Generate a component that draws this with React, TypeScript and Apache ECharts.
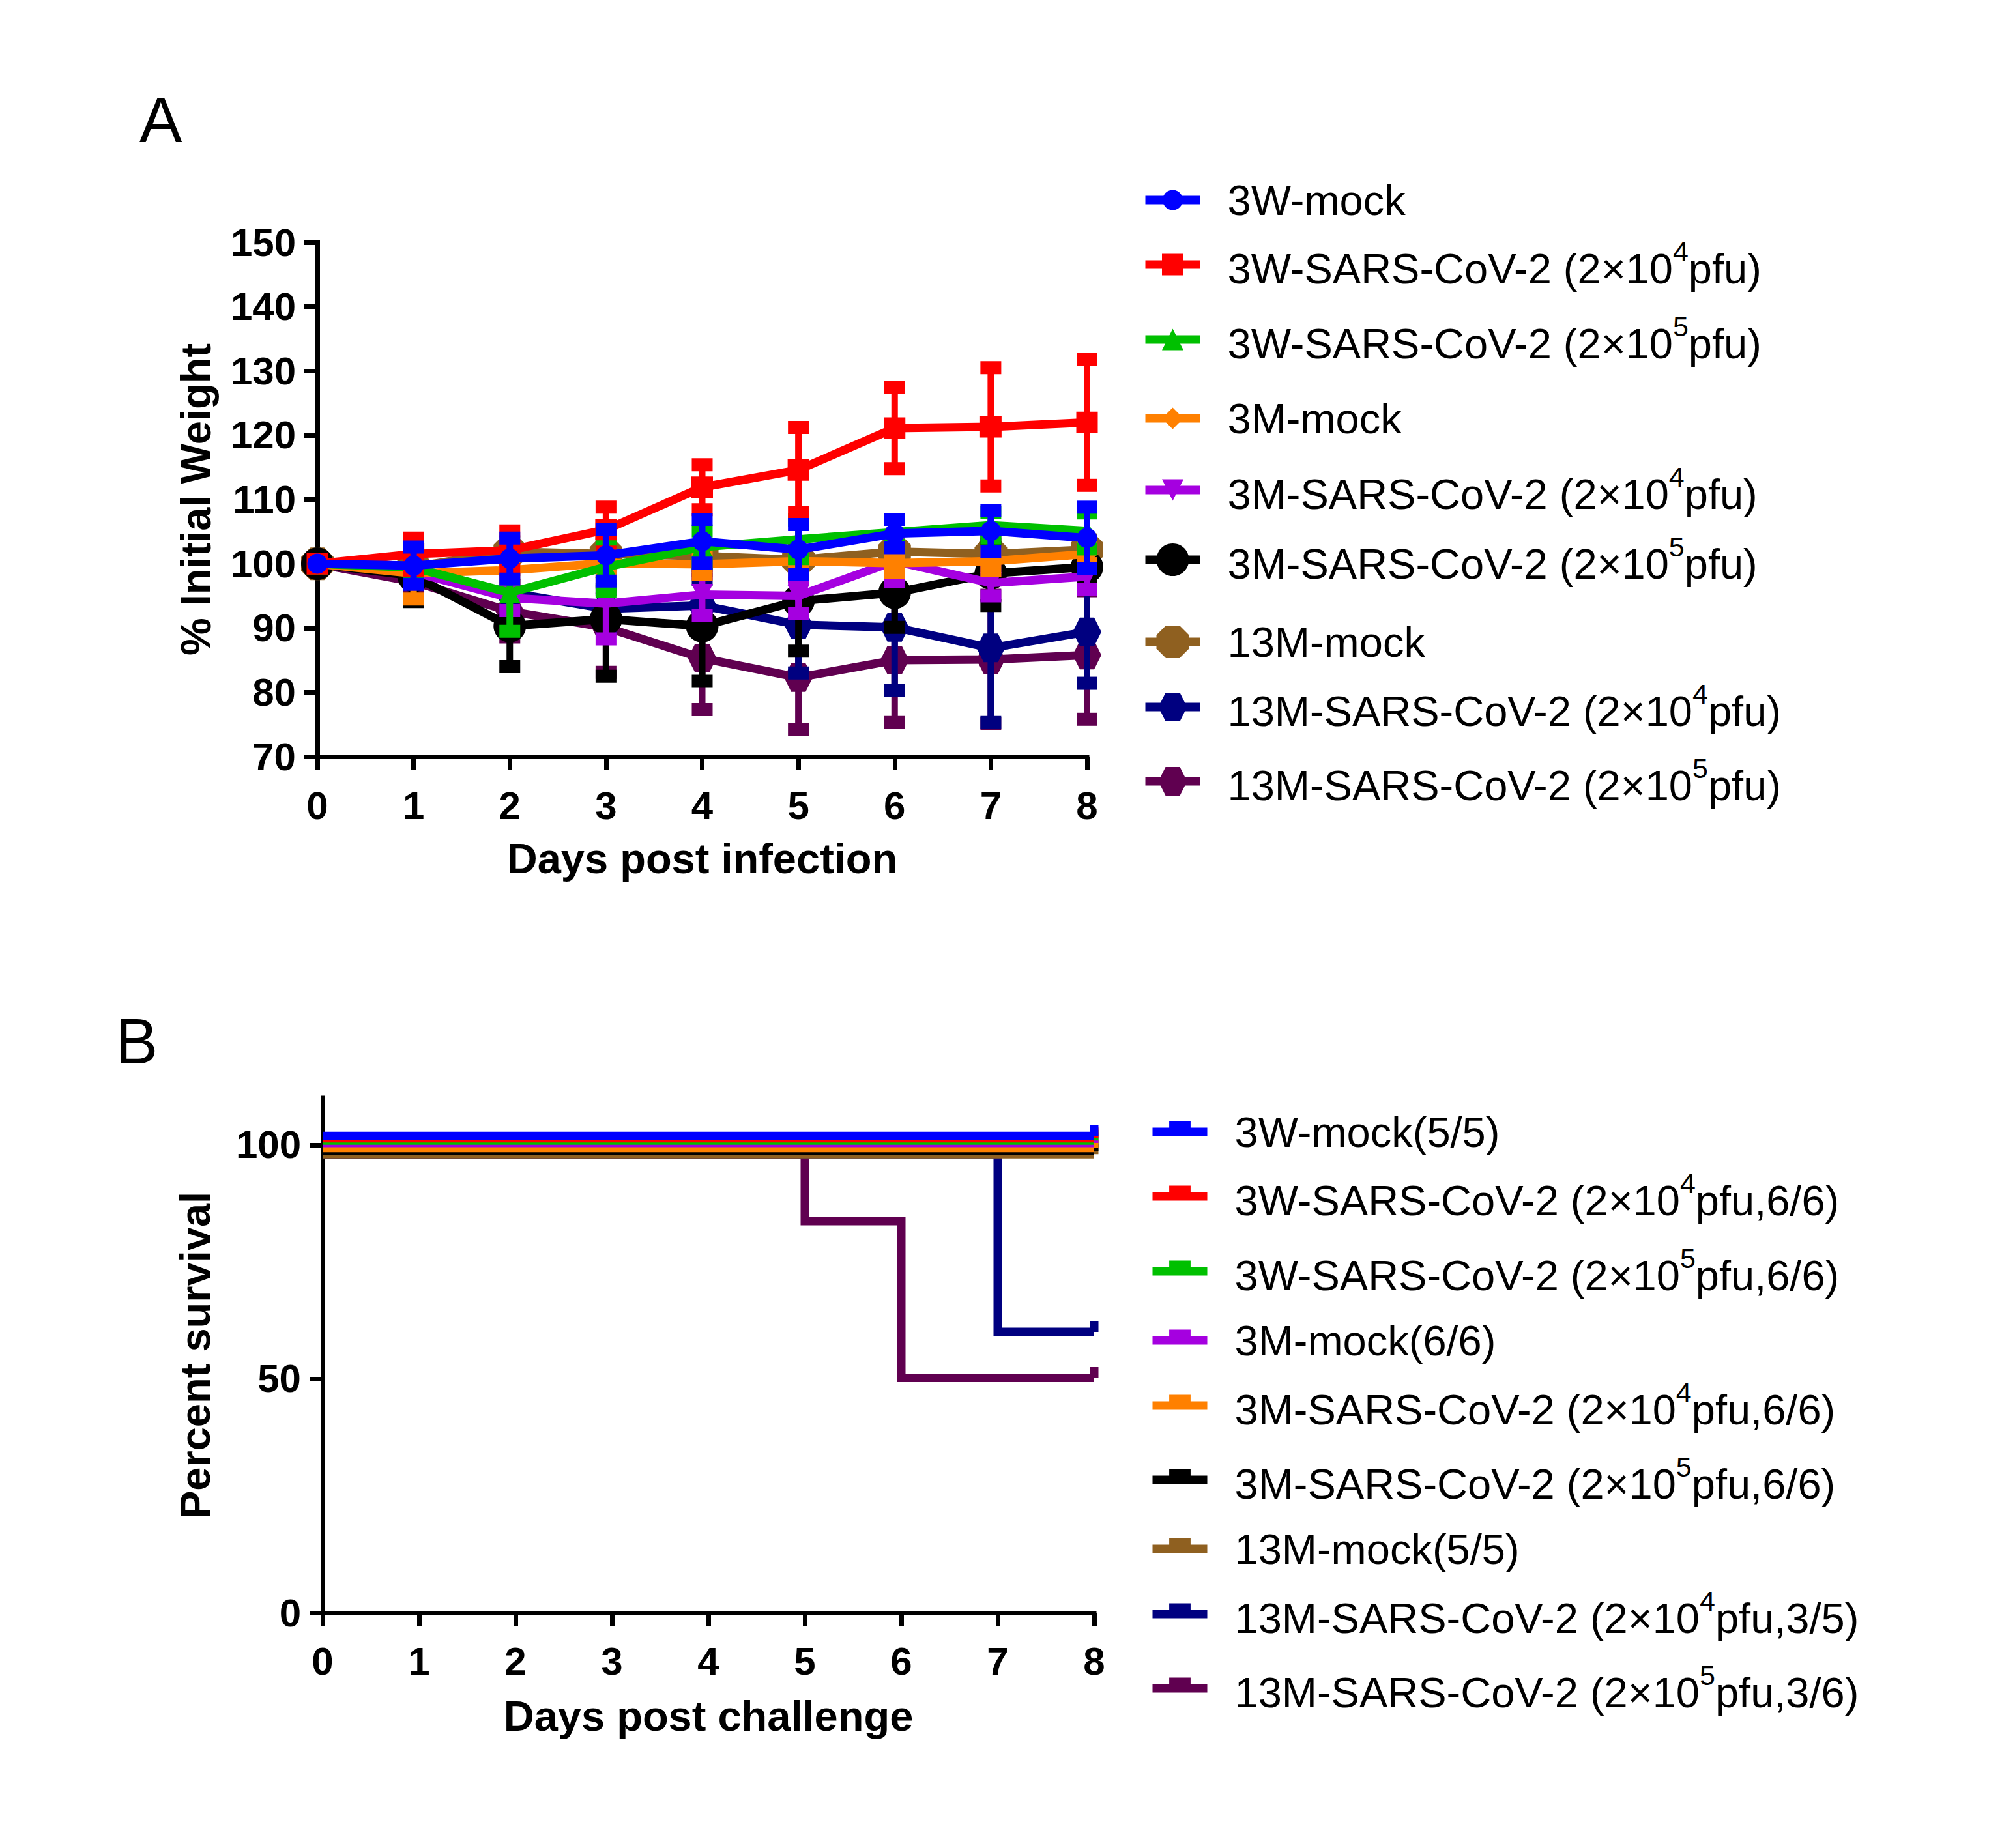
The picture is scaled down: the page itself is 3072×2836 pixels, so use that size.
import React, { useEffect, useRef } from "react";
import * as echarts from "echarts";

const FONT = '"Liberation Sans", Arial, Helvetica, sans-serif';

// ---------- Panel A: % initial weight (mean and SD per day) ----------
const days = [0, 1, 2, 3, 4, 5, 6, 7, 8];

const w3WMock = [100, 99.7, 100.8, 101.3, 103.5, 102.2, 104.7, 105.1, 104.0];
const sd3WMock = [0, 2.9, 3.2, 4.0, 3.4, 3.9, 2.2, 3.2, 4.8];

const w3WLow = [100, 101.5, 102.1, 105.3, 111.9, 114.6, 121.1, 121.3, 122.0];
const sd3WLow = [0, 2.5, 3.0, 3.5, 3.5, 6.6, 6.3, 9.2, 9.8];

const w3WHigh = [100, 99.4, 95.5, 99.5, 102.6, 103.8, 104.9, 106.0, 105.1];
const sd3WHigh = [0, 2.5, 6.0, 3.8, 2.5, 3.0, 2.0, 2.0, 2.8];

const w3MMock = [100, 98.5, 99.0, 100.1, 99.9, 100.4, 100.1, 100.4, 101.5];
const sd3MMock = [0, 4.0, 1.5, 1.5, 1.5, 1.5, 1.5, 1.5, 1.5];

const w3MLow = [100, 98.7, 94.7, 93.8, 95.2, 95.0, 100.4, 97.0, 98.0];
const sd3MLow = [0, 1.5, 2.0, 5.5, 3.3, 2.7, 3.2, 2.0, 2.0];

const w3MHigh = [100, 98.1, 90.3, 91.4, 90.3, 94.2, 95.5, 98.5, 99.5];
const sd3MHigh = [0, 4.0, 6.3, 8.9, 8.6, 7.8, 5.4, 5.0, 1.5];

const w13MMock = [100, 99.5, 101.9, 101.5, 101.2, 100.6, 101.9, 101.5, 102.2];
const sd13MMock = [0, 1.5, 1.5, 1.5, 1.5, 1.5, 1.5, 1.5, 1.5];

const w13MLow = [100, 99.0, 95.5, 93.0, 93.5, 90.5, 90.1, 86.9, 89.4];
const sd13MLow = [0, 2.0, 3.0, 3.0, 4.0, 7.5, 9.8, 11.6, 8.0];

const w13MHigh = [100, 97.2, 92.6, 90.1, 85.3, 82.3, 85.0, 85.1, 85.8];
const sd13MHigh = [0, 2.0, 4.0, 7.0, 8.0, 8.1, 9.7, 10.0, 10.0];

const namesA = [
  "3W-mock",
  "3W-SARS-CoV-2 (2×10⁴pfu)",
  "3W-SARS-CoV-2 (2×10⁵pfu)",
  "3M-mock",
  "3M-SARS-CoV-2 (2×10⁴pfu)",
  "3M-SARS-CoV-2 (2×10⁵pfu)",
  "13M-mock",
  "13M-SARS-CoV-2 (2×10⁴pfu)",
  "13M-SARS-CoV-2 (2×10⁵pfu)",
];

// ---------- Panel B: percent survival (step curves) ----------
const namesB = [
  "3W-mock(5/5)",
  "3W-SARS-CoV-2 (2×10⁴pfu,6/6)",
  "3W-SARS-CoV-2 (2×10⁵pfu,6/6)",
  "3M-mock(6/6)",
  "3M-SARS-CoV-2 (2×10⁴pfu,6/6)",
  "3M-SARS-CoV-2 (2×10⁵pfu,6/6)",
  "13M-mock(5/5)",
  "13M-SARS-CoV-2 (2×10⁴pfu,3/5)",
  "13M-SARS-CoV-2 (2×10⁵pfu,3/6)",
];
// survival values as drawn (GraphPad nudges overlapping 100% curves apart)
const sDays3WMock = [0, 8];
const s3WMock = [101.9, 101.9];
const sDays3WLow = [0, 8];
const s3WLow = [101.4, 101.4];
const sDays3WHigh = [0, 8];
const s3WHigh = [100.9, 100.9];
const sDays3MMock = [0, 8];
const s3MMock = [100.4, 100.4];
const sDays3MLow = [0, 8];
const s3MLow = [99.3, 99.3];
const sDays3MHigh = [0, 8];
const s3MHigh = [98.7, 98.7];
const sDays13MMock = [0, 8];
const s13MMock = [98.0, 98.0];
const sDays13MLow = [0, 7, 8];
const s13MLow = [98.0, 60.0, 60.0];
const sDays13MHigh = [0, 5, 6, 8];
const s13MHigh = [98.0, 83.7, 50.2, 50.2];

const yTicksB = [0, 50, 100];

// ---------- styles ----------
const BLUE = "#0000FF";
const RED = "#FF0000";
const GREEN = "#00C000";
const ORANGE = "#FF8000";
const PURPLE = "#A500E0";
const BLACK = "#000000";
const BROWN = "#8F6020";
const NAVY = "#000080";
const PLUM = "#600050";

const TRI_DOWN = "path://M0,0 L100,0 L50,100 Z";
const OCTAGON = "path://M29,0 L71,0 L100,29 L100,71 L71,100 L29,100 L0,71 L0,29 Z";
const HEXAGON = "path://M25,0 L75,0 L100,50 L75,100 L25,100 L0,50 Z";
// censor tick: filled upper half, tiny sliver at the bottom keeps the box centred on the line
const TICK = "path://M0,0 L12,0 L12,20 L0,20 Z M5.99,39.99 L6.01,39.99 L6.01,40 L5.99,40 Z";

const groupsA = [
  { name: namesA[0], mean: w3WMock, sd: sd3WMock, color: BLUE, symbol: "circle", size: 31 },
  { name: namesA[1], mean: w3WLow, sd: sd3WLow, color: RED, symbol: "rect", size: 33 },
  { name: namesA[2], mean: w3WHigh, sd: sd3WHigh, color: GREEN, symbol: "triangle", size: 33 },
  { name: namesA[3], mean: w3MMock, sd: sd3MMock, color: ORANGE, symbol: "diamond", size: 33 },
  { name: namesA[4], mean: w3MLow, sd: sd3MLow, color: PURPLE, symbol: TRI_DOWN, size: 33 },
  { name: namesA[5], mean: w3MHigh, sd: sd3MHigh, color: BLACK, symbol: "circle", size: 50 },
  { name: namesA[6], mean: w13MMock, sd: sd13MMock, color: BROWN, symbol: OCTAGON, size: 50 },
  { name: namesA[7], mean: w13MLow, sd: sd13MLow, color: NAVY, symbol: HEXAGON, size: 44 },
  { name: namesA[8], mean: w13MHigh, sd: sd13MHigh, color: PLUM, symbol: HEXAGON, size: 44 },
];

const groupsB = [
  { name: namesB[0], xs: sDays3WMock, ys: s3WMock, color: BLUE },
  { name: namesB[1], xs: sDays3WLow, ys: s3WLow, color: RED },
  { name: namesB[2], xs: sDays3WHigh, ys: s3WHigh, color: GREEN },
  { name: namesB[3], xs: sDays3MMock, ys: s3MMock, color: PURPLE },
  { name: namesB[4], xs: sDays3MLow, ys: s3MLow, color: ORANGE },
  { name: namesB[5], xs: sDays3MHigh, ys: s3MHigh, color: BLACK },
  { name: namesB[6], xs: sDays13MMock, ys: s13MMock, color: BROWN },
  { name: namesB[7], xs: sDays13MLow, ys: s13MLow, color: NAVY },
  { name: namesB[8], xs: sDays13MHigh, ys: s13MHigh, color: PLUM },
];

// legend row centres (px, icon line)
const legendRowsA = [307, 406, 521, 642, 752, 859, 985, 1085, 1199];
const legendRowsB = [1737, 1836, 1951, 2057, 2157, 2271, 2377, 2477, 2591];

const hasSup = (name: string) => /[⁴⁵]/.test(name);

const legendText = (name: string) => {
  const m = name.match(/^(.*10)([⁴⁵])(.*)$/);
  if (!m) return `{t|${name}}`;
  return `{t|${m[1]}}{s|${m[2] === "⁴" ? "4" : "5"}}{t|${m[3]}}`;
};

const richStyles = {
  t: { fontFamily: FONT, fontSize: 65, lineHeight: 96, color: "#000" },
  s: { fontFamily: FONT, fontSize: 43, lineHeight: 40, verticalAlign: "top", color: "#000" },
};

const mkLegend = (name: string, left: number, centerY: number, itemHeight: number) => {
  const shift = hasSup(name) ? 12 : 0; // superscript rows sit a little lower
  return {
    show: true,
    data: [name],
    left,
    top: centerY - 48 - shift / 2,
    orient: "vertical",
    padding: 0,
    itemWidth: 84,
    itemHeight,
    selectedMode: false,
    symbolKeepAspect: true,
    lineStyle: { width: 13 },
    formatter: legendText,
    textStyle: {
      color: "#000",
      fontFamily: FONT,
      fontSize: 65,
      lineHeight: 96,
      padding: [shift, 0, 0, 37],
      rich: richStyles,
    },
  };
};

const axisLineStyle = { color: "#000", width: 7, cap: "square" };
const tickStyle = { color: "#000", width: 7 };
const tickLabel = (margin: number) => ({
  margin,
  color: "#000",
  fontSize: 60,
  fontWeight: "bold",
  fontFamily: FONT,
});
const nameStyle = { color: "#000", fontSize: 65, fontWeight: "bold", fontFamily: FONT };

function buildOption() {
  const n = groupsA.length;
  const seriesA: any[] = [];
  groupsA.forEach((g, i) => {
    const zBase = 10 + 2 * (n - 1 - i);
    seriesA.push({
      type: "custom",
      name: g.name + " SD",
      xAxisIndex: 0,
      yAxisIndex: 0,
      data: days.map((d, k) => [d, g.mean[k], g.sd[k]]),
      encode: { x: 0, y: 1 },
      clip: false,
      silent: true,
      z: zBase,
      renderItem: (params: any, api: any) => {
        const x = api.value(0);
        const m = api.value(1);
        const s = api.value(2);
        if (!s) return { type: "group", children: [] };
        const top = api.coord([x, m + s]);
        const bot = api.coord([x, m - s]);
        return {
          type: "group",
          children: [
            {
              type: "line",
              shape: { x1: top[0], y1: top[1], x2: bot[0], y2: bot[1] },
              style: { stroke: g.color, lineWidth: 10 },
            },
            {
              type: "rect",
              shape: { x: top[0] - 16, y: top[1] - 10, width: 32, height: 20 },
              style: { fill: g.color },
            },
            {
              type: "rect",
              shape: { x: bot[0] - 16, y: bot[1] - 10, width: 32, height: 20 },
              style: { fill: g.color },
            },
          ],
        };
      },
    });
    seriesA.push({
      type: "line",
      name: g.name,
      xAxisIndex: 0,
      yAxisIndex: 0,
      data: days.map((d, k) => [d, g.mean[k]]),
      symbol: g.symbol,
      symbolSize: g.size,
      showSymbol: true,
      showAllSymbol: true,
      clip: false,
      z: zBase + 1,
      lineStyle: { width: 13, color: g.color },
      itemStyle: { color: g.color },
      emphasis: { disabled: true },
    });
  });

  const seriesB: any[] = groupsB.map((g, i) => ({
    type: "line",
    name: g.name,
    xAxisIndex: 1,
    yAxisIndex: 1,
    step: "end",
    data: g.xs.map((x, k) => ({
      value: [x, g.ys[k]],
      symbol: k === g.xs.length - 1 ? TICK : "none",
    })),
    symbol: TICK,
    symbolSize: [13, 33],
    symbolKeepAspect: false,
    showSymbol: true,
    showAllSymbol: true,
    clip: false,
    z: 10 + (groupsB.length - 1 - i),
    lineStyle: { width: 13, color: g.color, cap: "butt", join: "miter" },
    itemStyle: { color: g.color },
    emphasis: { disabled: true },
  }));

  // draw back-to-front: first legend entry ends on top
  const orderedB = seriesB.slice().reverse();

  return {
    animation: false,
    backgroundColor: "#ffffff",
    textStyle: { fontFamily: FONT },
    grid: [
      { left: 487, top: 372, width: 1181, height: 789, outerBoundsMode: "none" },
      { left: 495, top: 1685, width: 1184, height: 790, outerBoundsMode: "none" },
    ],
    xAxis: [
      {
        gridIndex: 0,
        type: "value",
        min: 0,
        max: 8,
        interval: 1,
        axisLine: { show: true, onZero: false, lineStyle: axisLineStyle },
        axisTick: { show: true, length: 20, lineStyle: tickStyle },
        axisLabel: tickLabel(45),
        splitLine: { show: false },
        name: "Days post infection",
        nameLocation: "middle",
        nameGap: 124,
        nameTextStyle: nameStyle,
      },
      {
        gridIndex: 1,
        type: "value",
        min: 0,
        max: 8,
        interval: 1,
        axisLine: { show: true, onZero: false, lineStyle: axisLineStyle },
        axisTick: { show: true, length: 20, lineStyle: tickStyle },
        axisLabel: tickLabel(44),
        splitLine: { show: false },
        name: "Days post challenge",
        nameLocation: "middle",
        nameGap: 126,
        nameTextStyle: nameStyle,
      },
    ],
    yAxis: [
      {
        gridIndex: 0,
        type: "value",
        min: 70,
        max: 150,
        interval: 10,
        axisLine: { show: true, onZero: false, lineStyle: axisLineStyle },
        axisTick: { show: true, length: 20, lineStyle: tickStyle },
        axisLabel: tickLabel(33),
        splitLine: { show: false },
        name: "% Initial Weight",
        nameLocation: "middle",
        nameGap: 154,
        nameTextStyle: nameStyle,
      },
      {
        gridIndex: 1,
        type: "value",
        min: 0,
        max: 110,
        interval: 50,
        axisLine: { show: true, onZero: false, lineStyle: axisLineStyle },
        axisTick: { show: true, length: 20, lineStyle: tickStyle, customValues: yTicksB },
        axisLabel: { ...tickLabel(33), customValues: yTicksB },
        splitLine: { show: false },
        name: "Percent survival",
        nameLocation: "middle",
        nameGap: 163,
        nameTextStyle: nameStyle,
      },
    ],
    legend: [
      ...groupsA.map((g, i) => mkLegend(g.name, 1751, legendRowsA[i], g.size / 0.8)),
      ...groupsB.map((g, i) => mkLegend(g.name, 1762, legendRowsB[i], 41)),
    ],
    graphic: [
      {
        type: "text",
        left: 214,
        top: 135,
        style: { text: "A", fontSize: 98, fontFamily: FONT, fill: "#000" },
      },
      {
        type: "text",
        left: 177,
        top: 1549,
        style: { text: "B", fontSize: 98, fontFamily: FONT, fill: "#000" },
      },
    ],
    series: [...seriesA, ...orderedB],
  };
}

export default function App() {
  const ref = useRef<HTMLDivElement>(null);
  useEffect(() => {
    document.body.style.margin = "0";
    document.body.style.overflow = "hidden";
    const chart = echarts.init(ref.current as HTMLDivElement, undefined, { renderer: "svg" });
    chart.setOption(buildOption() as any);
    return () => chart.dispose();
  }, []);
  return <div ref={ref} style={{ width: 3072, height: 2836, background: "#fff" }} />;
}
